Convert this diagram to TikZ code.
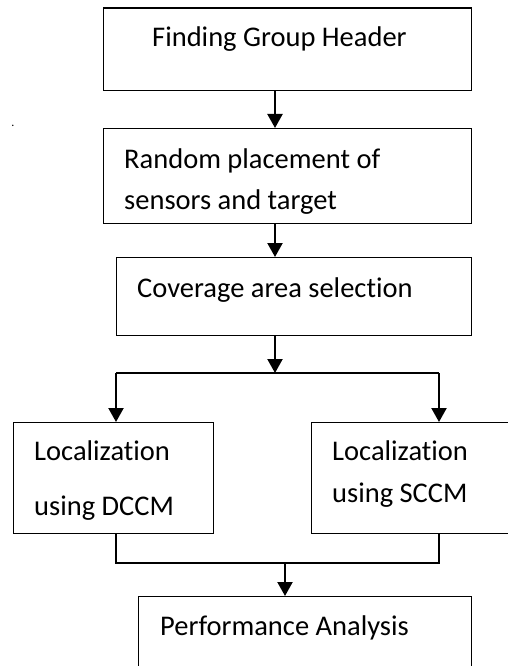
\documentclass[tikz,border=0pt]{standalone}
\usepackage{fontspec}
\setmainfont[Ligatures=NoCommon]{Carlito}
\usetikzlibrary{arrows.meta}
\tikzset{
  box/.style={draw, line width=1.4pt, inner sep=0pt, anchor=north west},
  lbl/.style={inner sep=0pt, anchor=base west, font=\fontsize{28.5}{34}\selectfont},
  arr/.style={line width=2.2pt, -{Triangle[width=15pt,length=14pt]}},
  thin/.style={line width=1.4pt},
}
\begin{document}
\begin{tikzpicture}[x=1pt,y=-1pt]
\useasboundingbox (0,0) rectangle (507,666);
% boxes
\node[box, minimum width=368pt, minimum height=82.5pt] (b1) at (103,7.5) {};
\node[box, minimum width=368pt, minimum height=95pt] (b2) at (103,128) {};
\node[box, minimum width=355pt, minimum height=78pt] (b3) at (116,257) {};
\node[box, minimum width=200pt, minimum height=111pt] (b4) at (13,422) {};
\node[box, minimum width=210pt, minimum height=111pt] (b5) at (311,422) {};
\node[box, minimum width=333pt, minimum height=80pt] (b6) at (138,596) {};
% texts
\node[lbl] (t1) at (152,47) {Finding Group Header};
\node[lbl] (t2a) at (124,168) {Random placement of};
\node[lbl] (t2b) at (124,209) {sensors and target};
\node[lbl] (t3) at (137,297) {Coverage area selection};
\node[lbl] (t4a) at (34,460) {Localization};
\node[lbl] (t4b) at (34,515) {using DCCM};
\node[lbl] (t5a) at (332,460) {Localization};
\node[lbl] (t5b) at (332,502) {using SCCM};
\node[lbl] (t6) at (160,635) {Performance Analysis};
\node[inner sep=0pt, anchor=base, font=\fontsize{12}{14}\selectfont] (dot) at (13,126) {.};
% junction coordinates
\coordinate (c1) at (275,0);
\coordinate (jm) at (275,373);
\coordinate (jl) at (116,373);
\coordinate (jr) at (439,373);
\coordinate (kl) at (116,563);
\coordinate (kr) at (439,563);
\coordinate (km) at (285,563);
% connectors
\draw[arr] (b1.south -| c1) -- (b2.north -| c1);
\draw[arr] (b2.south -| c1) -- (b3.north -| c1);
\draw[arr] (b3.south -| c1) -- (jm);
\draw[thin] (jl) -- (jr);
\draw[arr] (jl) -- (b4.north -| jl);
\draw[arr] (jr) -- (b5.north -| jr);
\draw[thin] (b4.south -| kl) -- (kl) -- (kr) -- (b5.south -| kr);
\draw[arr] (km) -- (b6.north -| km);
\end{tikzpicture}
\end{document}
